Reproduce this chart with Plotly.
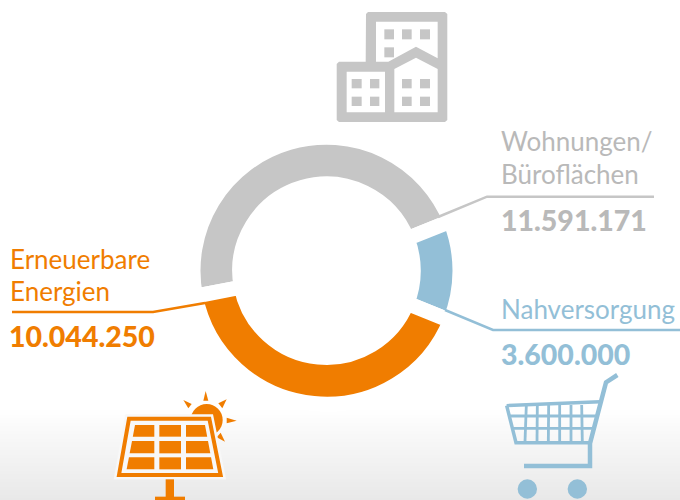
import plotly.graph_objects as go

W, H = 680, 500

# Values printed on the chart
categories = ["Wohnungen/ Büroflächen", "Nahversorgung", "Erneuerbare Energien"]
printed_values = ["11.591.171", "3.600.000", "10.044.250"]
# Arc sizes as drawn in the picture (degrees between gap centres); the original's
# blue arc is drawn somewhat narrower than its printed value would give.
arc_degrees = [169.3, 43.7, 147.0]
colors = ["#c6c6c6", "#93bfd7", "#f07d00"]
text_gray = "#b9b9b9"
start_angle = 259
gap_px = 15

# Ring geometry in pixels
cx, cy, r_out, r_in = 326.5, 270.7, 126.0, 94.3
R = r_out + gap_px / 2
hole = (r_in - gap_px / 2) / R


def px(x):
    return x / W


def py(y):
    return 1 - y / H


def path(points, close=True):
    s = "M " + " L ".join(f"{px(x):.5f},{py(y):.5f}" for x, y in points)
    return s + (" Z" if close else "")


shapes = []


def poly(points, color, close=True, lw=0, layer="above", line_color=None):
    shapes.append(dict(
        type="path", path=path(points, close), xref="paper", yref="paper", layer=layer,
        fillcolor=color if close else "rgba(0,0,0,0)",
        line=dict(width=lw, color=line_color or color),
    ))


def rect(x0, y0, x1, y1, color, layer="above"):
    shapes.append(dict(type="rect", x0=px(x0), x1=px(x1), y0=py(y1), y1=py(y0),
                       xref="paper", yref="paper", fillcolor=color, line=dict(width=0), layer=layer))


def circle(x, y, r, color):
    shapes.append(dict(type="circle", x0=px(x - r), x1=px(x + r), y0=py(y + r), y1=py(y - r),
                       xref="paper", yref="paper", fillcolor=color, line=dict(width=0), layer="above"))


def line(points, color, lw):
    poly(points, color, close=False, lw=lw, line_color=color)


# Background gradient at the bottom of the page
for y in range(408, 500):
    g = round(255 - (y - 408) / 92 * 23)
    rect(0, y, 680, y + 1.5, f"rgb({g},{g},{g})", layer="below")

# Leader lines
line([(438, 217), (487, 196.7), (654, 196.7)], colors[0], 2.5)
line([(445, 310), (493, 330), (680, 330)], colors[1], 2.5)
line([(12, 312), (153, 312), (205, 303)], colors[2], 2.5)


# Building icon
def zb(x, y):
    return (320 + x / 3, y / 3)


g = colors[0]
rw = "#ffffff"
poly([(366, 14), (368, 12), (445, 12), (447.3, 14), (447.3, 120), (445, 122), (339, 122), (336.7, 120),
      (336.7, 64), (339, 61.7), (365.7, 61.7)], g)
poly([zb(168, 65), zb(353, 65), zb(353, 175), zb(288, 140), zb(205, 185), zb(168, 185)], rw)
poly([zb(80, 215), zb(195, 215), zb(195, 337), zb(80, 337)], rw)
poly([zb(223, 337), zb(223, 207), zb(288, 173), zb(353, 207), zb(353, 337)], rw)
for (x0, x1, y0, y1) in [(193, 222, 88, 118), (246, 275, 88, 118), (300, 330, 88, 118), (193, 222, 142, 172),
                         (95, 125, 237, 265), (150, 178, 237, 265), (95, 125, 290, 318), (150, 178, 290, 318),
                         (246, 275, 237, 265), (300, 330, 237, 265), (246, 275, 290, 318), (300, 330, 290, 318)]:
    rect(320 + x0 / 3, y0 / 3, 320 + x1 / 3, y1 / 3, g)


# Solar icon
def zs(x, y):
    return (100 + x / 3, 380 + y / 3)


o = colors[2]
circle(*zs(320, 120), 16, o)
for tri in [[(317, 33), (310, 62), (325, 62)], [(380, 58), (355, 70), (367, 85)], [(410, 122), (380, 113), (380, 130)],
            [(375, 185), (350, 172), (362, 158)], [(250, 60), (275, 72), (265, 85)]]:
    poly([zs(*p) for p in tri], o)
frame = [zs(87, 116), zs(328, 116), zs(362, 285), zs(57, 285)]
poly(frame, "#f8f8f8", lw=9, line_color="#f8f8f8")
poly(frame, "#f8f8f8", lw=4, line_color=o)
for (y0, y1, l0, l1) in [(135, 170, 105, 98.4), (183, 220, 96, 89), (232, 268, 86.8, 80)]:
    poly([zs(l0, y0), zs(163, y0), zs(163, y1), zs(l1, y1)], o)
    poly([zs(178, y0), zs(243, y0), zs(243, y1), zs(178, y1)], o)
    poly([zs(258, y0), zs(420 - l0, y0), zs(420 - l1, y1), zs(258, y1)], o)
poly([zs(197, 298), zs(222, 298), zs(222, 352), zs(197, 352)], o)
poly([zs(165, 350), zs(255, 350), zs(255, 362), zs(165, 362)], o)


# Cart icon
def zc(x, y):
    return (490 + x / 3, 360 + y / 3)


b = colors[1]
line([zc(382, 45), zc(348, 67), zc(300, 250), zc(300, 318), zc(102, 318)], b, 4.5)
line([zc(50, 137), zc(330, 125)], b, 3.5)
line([zc(50, 137), zc(78, 248), zc(300, 248)], b, 3.5)
line([zc(60, 168), zc(320, 168)], b, 2.8)
line([zc(68, 205), zc(310, 205)], b, 2.8)
for x0, x1 in [(109, 105), (142, 141), (176, 175), (209, 209), (243, 243), (275, 277)]:
    line([zc(x0, 135), zc(x1, 245)], b, 2.8)
circle(*zc(112, 387), 9.7, b)
circle(*zc(262, 387), 9.7, b)

fig = go.Figure(go.Pie(
    labels=categories,
    values=arc_degrees,
    sort=False,
    direction="clockwise",
    rotation=start_angle,
    hole=hole,
    textinfo="none",
    hoverinfo="label",
    showlegend=False,
    marker=dict(colors=colors, line=dict(color="#ffffff", width=gap_px)),
    domain=dict(x=[px(cx - R), px(cx + R)], y=[py(cy + R), py(cy - R)]),
))

LABEL = 26
VALUE = 28.5
annotations = []


def label(x, y, text, color, size, weight=400):
    annotations.append(dict(
        x=px(x), y=py(y), xref="paper", yref="paper", xanchor="left", yanchor="middle",
        text=text, showarrow=False, align="left",
        font=dict(family="Lato", size=size, color=color, weight=weight), borderpad=0, borderwidth=0,
    ))


label(501, 141, "Wohnungen/", text_gray, LABEL)
label(501, 174, "Büroflächen", text_gray, LABEL)
label(501, 220, printed_values[0], text_gray, VALUE, 900)
label(501, 354, printed_values[1], colors[1], VALUE, 900)
label(501, 309, "Nahversorgung", colors[1], LABEL)
label(10, 259, "Erneuerbare", colors[2], LABEL)
label(10, 291, "Energien", colors[2], LABEL)
label(9, 336, printed_values[2], colors[2], VALUE, 900)

fig.update_layout(
    width=W, height=H, autosize=False,
    margin=dict(l=0, r=0, t=0, b=0),
    paper_bgcolor="#ffffff",
    plot_bgcolor="#ffffff",
    shapes=shapes,
    annotations=annotations,
)
fig.write_html("out.html", config=dict(displayModeBar=False),
               post_script="document.body.style.margin='0';document.body.style.overflow='hidden';")
